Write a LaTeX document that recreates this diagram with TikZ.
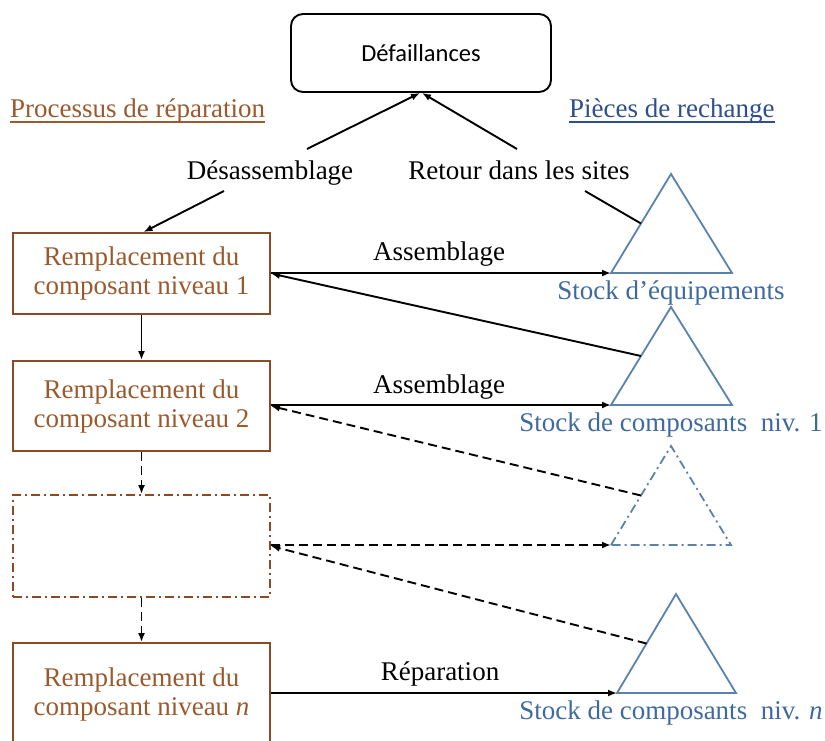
\documentclass[tikz,border=0pt]{standalone}
\usepackage{fontspec}
\setmainfont{Liberation Serif}
\newfontfamily\sansfont{Carlito}
\usetikzlibrary{arrows.meta,calc}
\definecolor{brtxt}{HTML}{9A5A2E}
\definecolor{brline}{HTML}{8B4A24}
\definecolor{bltitle}{HTML}{2F4E8C}
\definecolor{bltxt}{HTML}{3E6AA0}
\definecolor{bltri}{HTML}{5A82AE}
\begin{document}
\begin{tikzpicture}[x=1pt,y=-1pt,
  lbl/.style={inner sep=0pt, font=\fontsize{27}{29}\selectfont, anchor=base},
  procbox/.style={draw=brline, line width=1.9pt, minimum width=257pt, minimum height=81pt,
    inner sep=0pt, align=center, text=brtxt, font=\fontsize{27}{29}\selectfont,
    execute at begin node={\rule{0pt}{24.5pt}}},
  conn/.style={line width=1.9pt, black},
  tip/.style={-{Latex[length=9pt,width=7pt]}},
  dsh/.style={dash pattern=on 9pt off 5pt},
  dshdot/.style={dash pattern=on 9pt off 4pt on 2pt off 4pt},
  tri/.style={draw=bltri, line width=1.8pt},
]
\useasboundingbox (0,0) rectangle (825,740);
\clip (0,0) rectangle (825,740);

% top box
\node[draw, rounded corners=12pt, line width=1.9pt, minimum width=260pt, minimum height=78pt,
  font=\sansfont\fontsize{24.5}{28}\selectfont] (def) at (421,53) {Défaillances};

% titles
\node[lbl, text=brtxt, anchor=base west] (proc) at (10,117) {Processus de réparation};
\draw[brtxt, line width=1.5pt] ([yshift=-5pt]proc.base west) -- ([yshift=-5pt]proc.base east);
\node[lbl, text=bltitle, anchor=base west] (pieces) at (569,117) {Pièces de rechange};
\draw[bltitle, line width=1.5pt] ([yshift=-5pt]pieces.base west) -- ([yshift=-5pt]pieces.base east);

% labels
\node[lbl] (desa) at (270,179) {Désassemblage};
\node[lbl] (ret) at (519,179) {Retour dans les sites};
\node[lbl] (as1) at (439,260) {Assemblage};
\node[lbl] (as2) at (439,393) {Assemblage};
\node[lbl] (rep) at (440,680) {Réparation};

% process boxes
\node[procbox] (b1) at (141.5,273.5) {Remplacement du\\composant niveau 1};
\node[procbox, minimum height=90pt] (b2) at (141.5,406) {Remplacement du\\composant niveau 2};
\node[procbox, minimum height=102pt, dshdot] (b3) at (141.5,546) {};
\node[procbox, minimum height=102pt] (bn) at (141.5,694) {Remplacement du\\composant niveau \textit{n}};

% triangles (stocks)
\coordinate (t1a) at (671,174); \coordinate (t1l) at (611,273); \coordinate (t1r) at (732,273);
\coordinate (t2a) at (671,307); \coordinate (t2l) at (611,405); \coordinate (t2r) at (732,405);
\coordinate (t3a) at (671,446); \coordinate (t3l) at (611,545); \coordinate (t3r) at (731,545);
\coordinate (tna) at (676,594); \coordinate (tnl) at (617,693); \coordinate (tnr) at (736,693);
\draw[tri] (t1l) -- (t1a) -- (t1r) -- cycle;
\draw[tri] (t2l) -- (t2a) -- (t2r) -- cycle;
\draw[tri, dshdot] (t3l) -- (t3a) -- (t3r) -- cycle;
\draw[tri] (tnl) -- (tna) -- (tnr) -- cycle;

\node[lbl, text=bltxt] (s1) at (671,299) {Stock d’équipements};
\node[lbl, text=bltxt] (s2) at (671,431) {Stock de composants\ \ niv. 1};
\node[lbl, text=bltxt] (sn) at (671,719) {Stock de composants\ \ niv. \textit{n}};

% free ends near labels
\coordinate (d1) at (307,149); \coordinate (d2) at (224,191);
\coordinate (r1) at (517,149); \coordinate (r2) at (585,191);

% connectors
\draw[conn,tip] (d1) -- ([xshift=-1pt]def.south);
\draw[conn,tip] (r1) -- ([xshift=1pt]def.south);
\draw[conn,tip] (d2) -- ([xshift=2pt]b1.north);
\draw[conn] ($(t1l)!0.5!(t1a)$) -- (r2);
\draw[conn,tip] (b1.east |- t1l) -- (t1l);
\draw[conn,tip] ($(t2l)!0.5!(t2a)$) -- (b1.east);
\draw[conn,tip] (b2.east |- t2l) -- (t2l);
\draw[conn,dsh,tip] ($(t3l)!0.5!(t3a)$) -- (b2.east);
\draw[conn,dsh,tip] (b3.east |- t3l) -- (t3l);
\draw[conn,dsh,tip] ($(tnl)!0.5!(tna)$) -- (b3.east);
\draw[conn,tip] (bn.east |- tnl) -- (tnl);
\draw[conn,tip] (b1.south) -- (b2.north);
\draw[conn,dsh,tip] (b2.south) -- (b3.north);
\draw[conn,dsh,tip] (b3.south) -- (bn.north);
\end{tikzpicture}
\end{document}
